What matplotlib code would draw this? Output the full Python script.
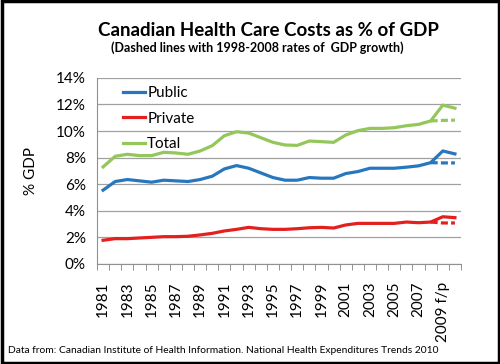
import matplotlib
matplotlib.use("Agg")
import matplotlib.pyplot as plt
import numpy as np

plt.rcParams['font.family'] = ['Lato', 'DejaVu Sans']

years = [str(y) for y in range(1981, 2009)] + ['2009 f/p', '2010 f/p']

public = [5.55, 6.2, 6.35, 6.25, 6.15, 6.3, 6.25, 6.2, 6.35, 6.6, 7.15, 7.4, 7.2,
          6.85, 6.5, 6.3, 6.3, 6.5, 6.45, 6.45, 6.8, 6.95, 7.2, 7.2, 7.2, 7.28,
          7.38, 7.62, 8.5, 8.28]
private = [1.78, 1.9, 1.9, 1.95, 2.0, 2.05, 2.05, 2.08, 2.18, 2.3, 2.48, 2.6, 2.75,
           2.65, 2.6, 2.6, 2.65, 2.72, 2.75, 2.7, 2.93, 3.05, 3.05, 3.05, 3.05,
           3.15, 3.1, 3.15, 3.55, 3.48]
total = [7.3, 8.1, 8.25, 8.15, 8.15, 8.4, 8.35, 8.25, 8.5, 8.9, 9.65, 9.95, 9.85,
         9.5, 9.15, 8.95, 8.92, 9.25, 9.2, 9.15, 9.7, 10.03, 10.2, 10.2, 10.25,
         10.4, 10.5, 10.76, 11.95, 11.72]

# projections with 1998-2008 GDP growth (2008 to 2010)
proj_idx = [27, 28, 29]
public_proj = [7.62, 7.6, 7.6]
private_proj = [3.15, 3.08, 3.08]
total_proj = [10.76, 10.8, 10.82]

c_pub = '#2777BF'
c_pri = '#E3201E'
c_tot = '#93C75A'

fig = plt.figure(figsize=(5.0, 3.64), dpi=100)
ax = fig.add_axes([0.194, 0.275, 0.728, 0.511])

x = np.arange(len(years))
ax.plot(x, public, color=c_pub, lw=2.3, label='Public')
ax.plot(x, private, color=c_pri, lw=2.3, label='Private')
ax.plot(x, total, color=c_tot, lw=2.3, label='Total')
ax.plot(proj_idx, public_proj, color=c_pub, lw=2.3, ls=(0, (2.2, 1)))
ax.plot(proj_idx, private_proj, color=c_pri, lw=2.3, ls=(0, (2.2, 1)))
ax.plot(proj_idx, total_proj, color=c_tot, lw=2.3, ls=(0, (2.2, 1)))

ax.set_xlim(-0.5, len(years) - 0.5)
ax.set_ylim(0, 14)
ax.set_yticks(np.arange(0, 15, 2))
ax.set_yticklabels([f'{v}%' for v in range(0, 15, 2)], fontsize=11)
ax.yaxis.grid(True, color='#A0A0A0', lw=0.9)
ax.set_axisbelow(True)
ax.tick_params(axis='y', length=0, pad=8)

ax.set_xticks(x[::2])
ax.set_xticklabels(years[::2], rotation=90, fontsize=11)
ax.set_xticks(np.arange(-0.5, len(years), 1), minor=True)
ax.tick_params(axis='x', which='major', length=0, pad=13)
ax.tick_params(axis='x', which='minor', length=4, color='#808080')

for s in ['top', 'right']:
    ax.spines[s].set_visible(False)
ax.spines['left'].set_color('#909090')
ax.spines['bottom'].set_color('#909090')

ax.set_ylabel('% GDP', fontsize=11, labelpad=13)

ax.legend(loc='upper left', frameon=False, fontsize=11, handlelength=1.4,
          handletextpad=0.15, labelspacing=0.75, bbox_to_anchor=(0.035, 1.03))

fig.text(0.536, 0.902, 'Canadian Health Care Costs as % of GDP', ha='center',
         fontsize=13.5, fontweight='bold')
fig.text(0.515, 0.857, '(Dashed lines with 1998-2008 rates of  GDP growth)',
         ha='center', fontsize=9, fontweight='bold')
fig.text(0.016, 0.03, 'Data from: Canadian Institute of Health Information. '
         'National Health Expenditures Trends 2010', fontsize=7.4)

fig.patches.append(plt.Rectangle((0.003, 0.004), 0.994, 0.992, transform=fig.transFigure,
                                 fill=False, edgecolor='black', lw=2.5))

fig.savefig('out.png', dpi=100)
